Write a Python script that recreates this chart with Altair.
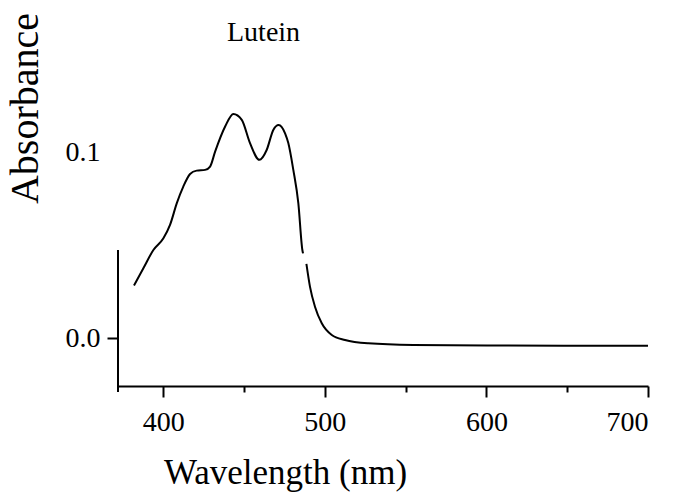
import altair as alt
import pandas as pd

# Lutein absorption spectrum (segment A before the gap, B after)
wl_a = [381.9, 387.7, 393.9, 400.1, 404.2, 408.4, 412.4, 416.6, 420.7, 425.9, 429.0,
        432.1, 438.3, 443.4, 448.6, 453.7, 459.5, 464.0, 468.1, 471.4, 475.4, 477.4,
        480.5, 483.6, 486.1, 486.5]
ab_a = [0.0284, 0.0377, 0.0475, 0.0538, 0.0610, 0.0727, 0.0816, 0.0884, 0.0902, 0.0906, 0.0924,
        0.1004, 0.1139, 0.1207, 0.1175, 0.1050, 0.0960, 0.1013, 0.1121, 0.1148, 0.1103, 0.1050,
        0.0906, 0.0727, 0.0475, 0.0457]
wl_b = [488.6, 490.8, 493.9, 498.1, 504.3, 512.5, 526.9, 554.8, 600.4, 700.0]
ab_b = [0.0400, 0.0278, 0.0170, 0.0081, 0.0018, -0.0009, -0.0027, -0.0036, -0.0039, -0.0040]

x_ticks = [400, 450, 500, 550, 600, 650, 700]
y_ticks = [0.0, 0.1]
x_domain = [372, 700]
y_domain = [-0.02567, 0.175]
y_axis_line = [0.0475, -0.0289]   # extent of the drawn left axis line

FONT = "Liberation Serif"

df = pd.DataFrame({
    "wl": wl_a + wl_b,
    "ab": ab_a + ab_b,
    "seg": ["a"] * len(wl_a) + ["b"] * len(wl_b),
})
axis_df = pd.DataFrame({"top": [y_axis_line[0]], "bottom": [y_axis_line[1]]})

x_enc = alt.X(
    "wl:Q",
    scale=alt.Scale(domain=x_domain, nice=False, zero=False),
    axis=alt.Axis(
        values=x_ticks,
        labelExpr="datum.value % 100 === 0 ? datum.label : ''",
        tickSize={"condition": {"test": "datum.value % 100 === 0", "value": 11}, "value": 6},
        tickWidth=2,
        tickColor="black",
        domainColor="black",
        domainWidth=2,
        grid=False,
        labelFont=FONT,
        labelFontSize=28,
        labelColor="black",
        labelBaseline="alphabetic",
        labelPadding=33,
        title="Wavelength (nm)",
        titleFont=FONT,
        titleFontSize=35,
        titleFontWeight="normal",
        titleColor="black",
        titleX=167,
        titleY=97,
        titleAlign="center",
        titleBaseline="alphabetic",
    ),
)

y_enc = alt.Y(
    "ab:Q",
    scale=alt.Scale(domain=y_domain, nice=False, zero=False),
    axis=alt.Axis(
        values=y_ticks,
        format=".1f",
        domain=False,
        grid=False,
        tickSize=11,
        tickOpacity={"condition": {"test": "datum.value === 0", "value": 1}, "value": 0},
        tickWidth=2,
        tickColor="black",
        labelFont=FONT,
        labelFontSize=28,
        labelColor="black",
        labelBaseline="middle",
        labelPadding=7,
        title="Absorbance",
        titleFont=FONT,
        titleFontSize=40,
        titleFontWeight="normal",
        titleColor="black",
        titleAngle=270,
        titleX=-81,
        titleY=95,
        titleAlign="center",
        titleBaseline="alphabetic",
    ),
)

line = alt.Chart(df).mark_line(color="black", strokeWidth=2, interpolate="monotone").encode(
    x=x_enc, y=y_enc, detail="seg:N"
)

yline = alt.Chart(axis_df).mark_rule(color="black", strokeWidth=2).encode(
    x=alt.value(0), y="top:Q", y2="bottom:Q"
)

chart = alt.layer(line, yline).properties(
    width=530,
    height=373,
    autosize=alt.AutoSizeParams(type="none"),
    padding={"left": 118, "top": 13, "right": 31, "bottom": 106},
    background="white",
    title=alt.TitleParams(
        "Lutein", font=FONT, fontSize=28, fontWeight="normal", color="black",
        anchor="start", frame="group", dx=109, dy=57, offset=0, baseline="alphabetic",
    ),
).configure_view(stroke=None)

chart.save("out.html", embed_options={"renderer": "svg", "actions": False})
